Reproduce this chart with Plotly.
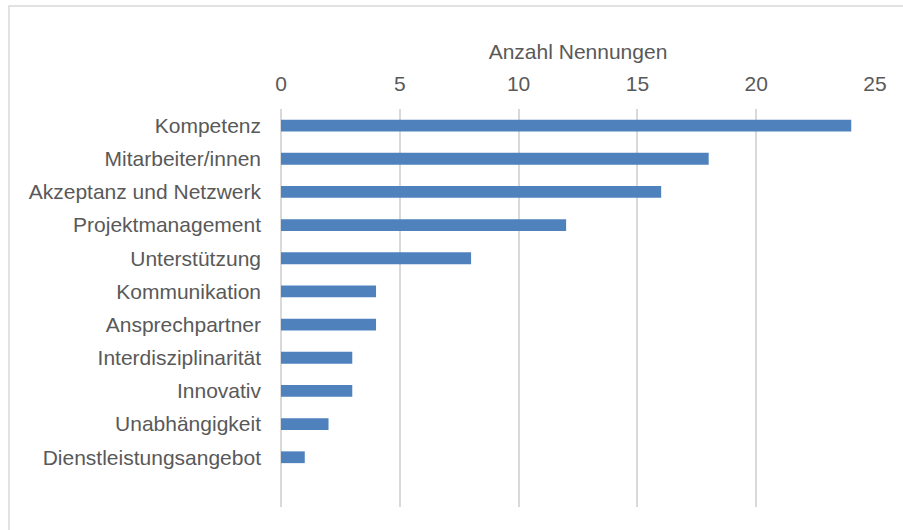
import plotly.graph_objects as go

categories = ["Kompetenz", "Mitarbeiter/innen", "Akzeptanz und Netzwerk", "Projektmanagement",
              "Unterstützung", "Kommunikation", "Ansprechpartner", "Interdisziplinarität",
              "Innovativ", "Unabhängigkeit", "Dienstleistungsangebot"]
values = [24, 18, 16, 12, 8, 4, 4, 3, 3, 2, 1]
x_ticks = [0, 5, 10, 15, 20, 25]
x_title = "Anzahl Nennungen"

W, H = 903, 530
ml, mr, mt, mb = 281, 28, 109, 23
pw, ph = W - ml - mr, H - mt - mb

font = dict(family="Liberation Sans, Arial, sans-serif", size=21, color="#595959")

fig = go.Figure(go.Bar(
    x=values, y=categories, orientation="h",
    marker=dict(color="#4f81bd", line=dict(width=0)),
    width=0.355,
))

def px_x(p):
    return (p - ml) / pw

def px_y(p):
    return (H - mb - p) / ph

n = len(categories)
fig.update_layout(
    width=W, height=H,
    margin=dict(l=ml, r=mr, t=mt, b=mb, autoexpand=False),
    paper_bgcolor="white", plot_bgcolor="white",
    font=font,
    showlegend=False,
    xaxis=dict(
        side="top", range=[0, 25], tickvals=x_ticks, ticktext=[str(t) for t in x_ticks],
        showgrid=True, gridcolor="#d9d9d9", gridwidth=1.5,
        zeroline=True, zerolinecolor="#d9d9d9", zerolinewidth=1.5,
        showline=False, ticks="", ticklabelstandoff=13,
        tickfont=font,
        title=dict(text=x_title, font=font, standoff=6),
    ),
    yaxis=dict(
        categoryorder="array", categoryarray=categories,
        range=[n + 0.5, -0.5],
        showgrid=False, zeroline=False, showline=False, ticks="",
        ticklabelstandoff=19, tickfont=font,
    ),
    shapes=[dict(
        type="rect", xref="paper", yref="paper",
        x0=px_x(9), x1=px_x(W + 20), y0=px_y(H + 20), y1=px_y(6),
        line=dict(color="#d9d9d9", width=1.5), fillcolor="rgba(0,0,0,0)", layer="below",
    )],
)

fig.write_html("out.html", config={"displayModeBar": False},
               post_script="document.body.style.margin='0';")
